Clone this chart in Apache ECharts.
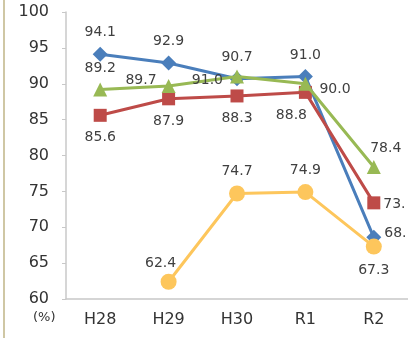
<!DOCTYPE html>
<html><head><meta charset="utf-8">
<script src="https://cdn.jsdelivr.net/npm/echarts@6/dist/echarts.min.js"></script>
<style>html,body{margin:0;padding:0;background:#fff}#c{width:408px;height:338px}</style>
</head><body><div id="c"></div>
<script>
const categories = ['H28','H29','H30','R1','R2'];
const blueVals = [94.1, 92.9, 90.7, 91.0, 68.6];
const redVals = [85.6, 87.9, 88.3, 88.8, 73.4];
const greenVals = [89.2, 89.7, 91.0, 90.0, 78.4];
const yellowVals = [null, 62.4, 74.7, 74.9, 67.3];
const yTicks = [60, 65, 70, 75, 80, 85, 90, 95, 100];

const labelFont = {fontFamily: 'DejaVu Sans, sans-serif', fontSize: 14, color: '#404040'};
function items(vals, positions, offsets, fmt) {
  return vals.map((v, i) => v == null ? null : {
    value: v,
    label: Object.assign({show: true, position: positions[i], offset: offsets ? offsets[i] : [0,0],
      formatter: fmt ? fmt[i] : v.toFixed(1)}, labelFont)
  });
}
const chart = echarts.init(document.getElementById('c'));
chart.setOption({
  animation: false,
  grid: {left: 66, top: 12, bottom: 39, right: -4, containLabel: false},
  xAxis: {
    type: 'category', data: categories, boundaryGap: true,
    axisLine: {lineStyle: {color: '#c8c8c8', width: 1.5}},
    axisTick: {show: false},
    axisLabel: {color: '#333', fontSize: 16, margin: 13, fontFamily: 'DejaVu Sans, sans-serif'}
  },
  yAxis: {
    type: 'value', min: yTicks[0], max: yTicks[yTicks.length-1], interval: 5,
    axisLine: {show: true, lineStyle: {color: '#c8c8c8', width: 1.5}},
    axisTick: {show: true, length: 4, lineStyle: {color: '#c8c8c8'}},
    splitLine: {show: false},
    axisLabel: {color: '#333', fontSize: 16, margin: 17, fontFamily: 'DejaVu Sans, sans-serif'}
  },
  series: [
    {type: 'line', data: items(blueVals, ['top','top','top','top','right'], [[0,-2],[0,-2],[0,-2],[0,-2],[-2,-4]], ['94.1','92.9','90.7','91.0','68.']),
     symbol: 'diamond', symbolSize: 15, lineStyle: {color: '#4a7ebb', width: 3}, itemStyle: {color: '#4a7ebb'}, z: 2},
    {type: 'line', data: items(redVals, ['bottom','bottom','bottom','bottom','right'], [[0,4],[0,4],[0,4],[-14,4],[-2,2]], ['85.6','87.9','88.3','88.8','73.']),
     symbol: 'rect', symbolSize: 13, lineStyle: {color: '#be4b48', width: 3}, itemStyle: {color: '#be4b48'}, z: 3},
    {type: 'line', data: items(greenVals, ['top','left','left','right','top'], [[0,-2],[0,-6],[-2,4],[2,6],[12,0]]),
     symbol: 'triangle', symbolSize: 14, lineStyle: {color: '#98b954', width: 3}, itemStyle: {color: '#98b954'}, z: 4},
    {type: 'line', data: items(yellowVals, ['top','top','top','top','bottom'], [[0,0],[-8,2],[0,-2],[0,-2],[0,4]]),
     symbol: 'circle', symbolSize: 16, connectNulls: false, lineStyle: {color: '#fdc65c', width: 3}, itemStyle: {color: '#fdc65c'}, z: 5}
  ],
  graphic: [
    {type: 'rect', left: 3, top: 0, shape: {width: 2, height: 338}, style: {fill: '#cfc7a4'}},
    {type: 'text', left: 33, top: 311, style: {text: '(%)', fill: '#333', font: '13px DejaVu Sans, sans-serif'}}
  ]
});
</script></body></html>
